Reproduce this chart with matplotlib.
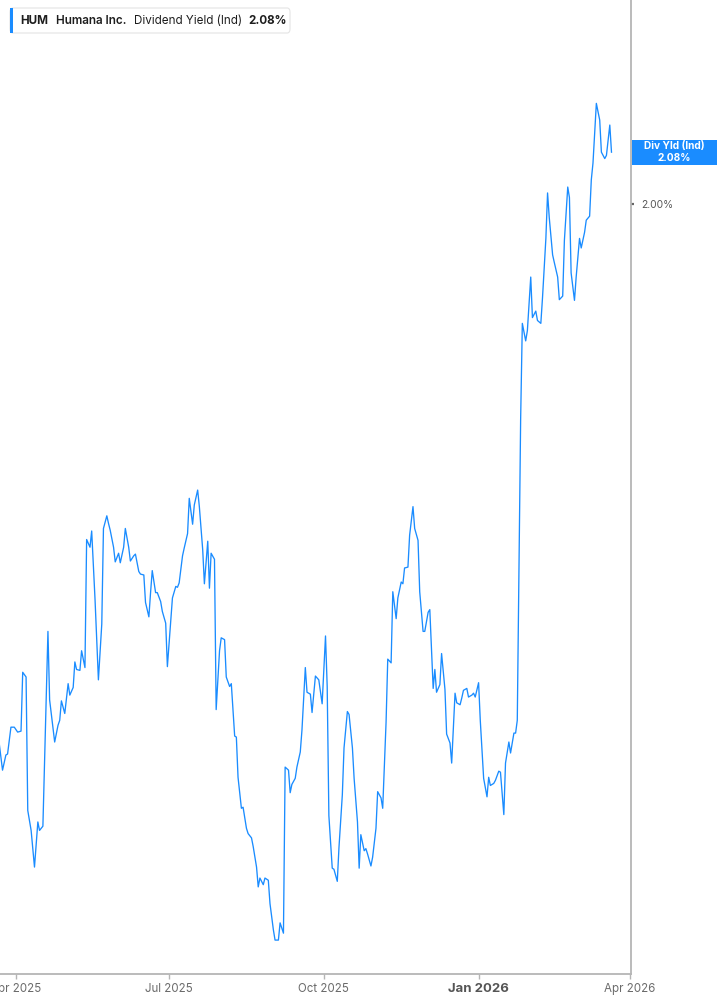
import pandas as pd
import matplotlib
matplotlib.use('Agg')
import matplotlib.pyplot as plt
from matplotlib.patches import Rectangle, FancyBboxPatch
from matplotlib.ticker import NullLocator

plt.rcParams['font.family'] = ['Inter', 'DejaVu Sans']

# Daten: Tage ab 1. April 2025 und Dividendenrendite in %
start = pd.Timestamp('2025-04-01')
day_offsets = [
    -10, -8, -6, -5, -3, -1, 1, 3, 4, 6, 7, 9, 11, 13, 14, 16, 19, 20, 23, 25,
    26, 27, 29, 31, 32, 34, 35, 36, 38, 39, 41, 42, 44, 45, 47, 49, 51, 52, 54, 55,
    56, 58, 59, 61, 62, 64, 65, 67, 68, 70, 71, 73, 74, 76, 77, 79, 80, 81, 83, 84,
    86, 87, 89, 90, 92, 93, 95, 96, 97, 99, 100, 102, 103, 105, 106, 108, 109, 111, 112, 114,
    115, 116, 118, 119, 121, 122, 124, 125, 127, 128, 130, 131, 132, 134, 135, 137, 138, 140, 141, 143,
    144, 145, 147, 148, 150, 151, 153, 154, 156, 157, 159, 160, 162, 163, 164, 166, 167, 169, 170, 172,
    173, 175, 176, 178, 179, 180, 182, 184, 185, 186, 188, 189, 191, 192, 194, 195, 197, 198, 200, 201,
    203, 204, 205, 207, 208, 209, 211, 212, 214, 215, 217, 218, 220, 221, 223, 224, 226, 227, 229, 230,
    231, 233, 234, 236, 237, 239, 240, 242, 243, 245, 246, 248, 249, 250, 252, 253, 255, 256, 258, 259,
    261, 262, 264, 265, 266, 268, 269, 271, 272, 273, 275, 276, 278, 280, 281, 282, 284, 285, 287, 288,
    290, 291, 293, 294, 296, 297, 298, 300, 301, 303, 304, 306, 307, 309, 310, 312, 313, 315, 316, 317,
    319, 320, 322, 323, 325, 326, 328, 329, 330, 332, 333, 335, 336, 338, 339, 341, 342, 343, 345, 347,
    348, 350, 351, 353, 354,
]
div_yield = [
    1.332, 1.305, 1.320, 1.321, 1.348, 1.348, 1.343, 1.344, 1.405, 1.400,
    1.266, 1.247, 1.213, 1.255, 1.247, 1.251, 1.449, 1.376, 1.333, 1.350,
    1.355, 1.375, 1.362, 1.393, 1.381, 1.389, 1.416, 1.408, 1.407, 1.428,
    1.410, 1.553, 1.544, 1.563, 1.484, 1.397, 1.457, 1.566, 1.581, 1.572,
    1.564, 1.544, 1.527, 1.537, 1.526, 1.544, 1.566, 1.544, 1.528, 1.534,
    1.536, 1.516, 1.513, 1.512, 1.481, 1.465, 1.492, 1.517, 1.492, 1.492,
    1.482, 1.471, 1.458, 1.411, 1.461, 1.486, 1.499, 1.498, 1.503, 1.534,
    1.543, 1.560, 1.602, 1.571, 1.594, 1.612, 1.592, 1.541, 1.502, 1.551,
    1.497, 1.537, 1.530, 1.366, 1.428, 1.442, 1.440, 1.400, 1.390, 1.393,
    1.339, 1.338, 1.298, 1.268, 1.269, 1.249, 1.244, 1.240, 1.232, 1.213,
    1.195, 1.203, 1.197, 1.203, 1.201, 1.180, 1.157, 1.148, 1.148, 1.163,
    1.154, 1.308, 1.305, 1.283, 1.291, 1.297, 1.308, 1.323, 1.345, 1.410,
    1.384, 1.382, 1.363, 1.401, 1.399, 1.397, 1.372, 1.444, 1.390, 1.261,
    1.212, 1.211, 1.200, 1.231, 1.281, 1.327, 1.364, 1.361, 1.327, 1.297,
    1.255, 1.212, 1.243, 1.228, 1.230, 1.225, 1.214, 1.222, 1.249, 1.284,
    1.278, 1.268, 1.353, 1.419, 1.415, 1.493, 1.463, 1.486, 1.504, 1.502,
    1.520, 1.521, 1.558, 1.592, 1.566, 1.552, 1.493, 1.449, 1.449, 1.470,
    1.473, 1.388, 1.408, 1.384, 1.392, 1.425, 1.387, 1.341, 1.332, 1.312,
    1.383, 1.373, 1.371, 1.378, 1.386, 1.388, 1.379, 1.381, 1.383, 1.379,
    1.394, 1.355, 1.297, 1.279, 1.298, 1.290, 1.292, 1.295, 1.304, 1.303,
    1.262, 1.312, 1.333, 1.322, 1.342, 1.342, 1.355, 1.701, 1.828, 1.804,
    1.818, 1.893, 1.836, 1.845, 1.832, 1.828, 1.864, 1.949, 2.017, 1.980,
    1.925, 1.914, 1.893, 1.861, 1.866, 1.946, 2.026, 2.010, 1.899, 1.860,
    1.893, 1.949, 1.935, 1.958, 1.976, 1.982, 2.037, 2.063, 2.158, 2.131,
    2.080, 2.070, 2.075, 2.123, 2.080,
]
tick_dates = ['2025-04-01', '2025-07-01', '2025-10-01', '2026-01-01', '2026-04-01']
tick_labels = ['Apr 2025', 'Jul 2025', 'Oct 2025', 'Jan 2026', 'Apr 2026']

W, H = 717, 1005
blue = '#1a8cff'
grey = '#b5b5b5'

def fx(x):
    return x / W

def fy(y):
    return 1 - y / H

dates = start + pd.to_timedelta(day_offsets, unit='D')

fig = plt.figure(figsize=(W / 100, H / 100), dpi=100, facecolor='white')
ax = fig.add_axes([0, fy(974), fx(631), 974 / H])
ax.plot(dates, div_yield, color=blue, lw=0.95)

ax.set_yscale('log')
ax.set_ylim(1.119, 2.333)
ax.set_xlim(start - pd.Timedelta(days=9.5), start + pd.Timedelta(days=365.6))

# Achsen / Rahmen
for s in ['top', 'left']:
    ax.spines[s].set_visible(False)
for s in ['bottom', 'right']:
    ax.spines[s].set_color(grey)
    ax.spines[s].set_linewidth(1.3)

ax.set_xticks(pd.to_datetime(tick_dates))
ax.set_xticklabels(tick_labels)
ax.tick_params(axis='x', length=3.5, width=1, color=grey, pad=3,
               labelsize=8.3, labelcolor='#6b6b6b')
lbl = ax.get_xticklabels()[3]
lbl.set_fontweight('bold')
lbl.set_fontsize(9.5)
lbl.set_color('#555555')

ax.yaxis.tick_right()
ax.set_yticks([2.0])
ax.set_yticklabels(['2.00%'])
ax.yaxis.set_minor_locator(NullLocator())
ax.tick_params(axis='y', length=2.5, width=1.6, color='#666666', pad=5,
               labelsize=7.4, labelcolor='#555555')

# Wertmarke rechts
_, ylast = ax.transData.transform((ax.get_xlim()[1], div_yield[-1]))
ypx = H - ylast
fig.patches.append(Rectangle((fx(632), fy(ypx + 12.5)), fx(W) - fx(632), 25 / H,
                             transform=fig.transFigure, facecolor=blue,
                             edgecolor='none', zorder=5))
fig.text(fx(674.5), fy(ypx - 6), 'Div Yld (Ind)', color='white', fontsize=7.3,
         fontweight='bold', ha='center', va='center', zorder=6)
fig.text(fx(674.5), fy(ypx + 5.5), '%.2f%%' % div_yield[-1], color='white', fontsize=7.3,
         fontweight='bold', ha='center', va='center', zorder=6)

# Legende oben links
fig.patches.append(FancyBboxPatch((fx(10), fy(33)), fx(280), 25 / H,
                                  boxstyle='round,pad=0,rounding_size=0.004',
                                  transform=fig.transFigure, facecolor='white',
                                  edgecolor='#e4e4e4', lw=0.8, zorder=5))
fig.patches.append(Rectangle((fx(10), fy(33)), fx(3), 25 / H,
                             transform=fig.transFigure, facecolor=blue,
                             edgecolor='none', zorder=6))
ty = fy(21)
fig.text(fx(20.5), ty, 'HUM', fontsize=8.4, fontweight='bold', color='#1e1e1e',
         va='center', zorder=7)
fig.text(fx(56), ty, 'Humana Inc.', fontsize=8.4, fontweight='semibold', color='#1e1e1e',
         va='center', zorder=7)
fig.text(fx(133.5), ty, 'Dividend Yield (Ind)', fontsize=8.4, color='#1e1e1e',
         va='center', zorder=7)
fig.text(fx(248), ty, '%.2f%%' % div_yield[-1], fontsize=8.4, fontweight='bold',
         color='#1e1e1e', va='center', zorder=7)

fig.savefig('out.png', dpi=100, facecolor='white')
